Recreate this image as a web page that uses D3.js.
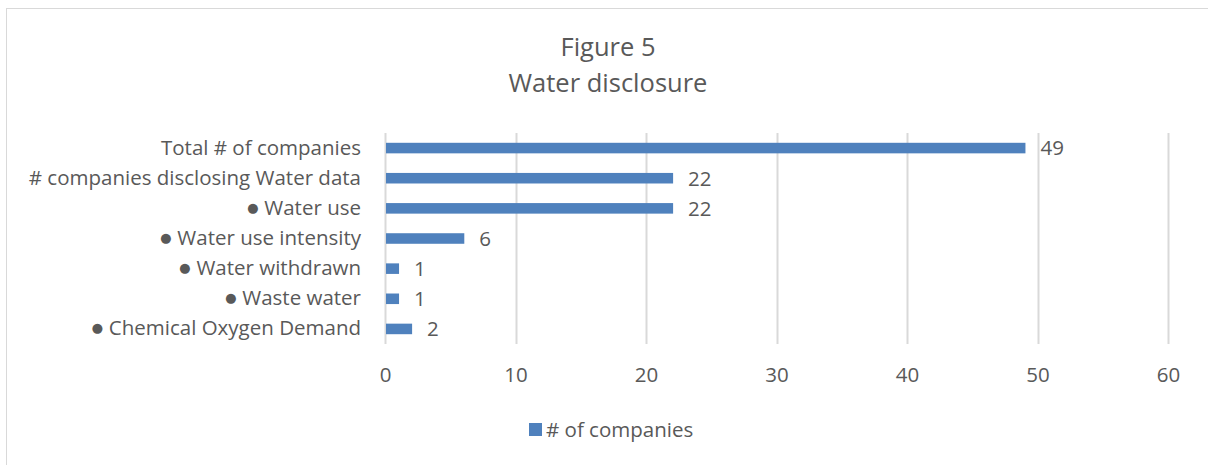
<!DOCTYPE html>
<html>
<head>
<meta charset="utf-8">
<script src="https://cdn.jsdelivr.net/npm/d3@7"></script>
<style>
  html, body { margin: 0; padding: 0; background: #fff; }
  svg { display: block; }
  text { font-family: "Open Sans", Lato, sans-serif; fill: #595959; }
</style>
</head>
<body>
<svg id="chart" width="1208" height="465"></svg>
<script>
// Chart data
const categories = [
  "Total # of companies",
  "# companies disclosing Water data",
  "\u25CF Water use",
  "\u25CF Water use intensity",
  "\u25CF Water withdrawn",
  "\u25CF Waste water",
  "\u25CF Chemical Oxygen Demand"
];
const values = [49, 22, 22, 6, 1, 1, 2];
const xTicks = [0, 10, 20, 30, 40, 50, 60];
const titleLines = ["Figure 5", "Water disclosure"];
const seriesName = "# of companies";

const W = 1208, H = 465;
const margin = { left: 385, right: 40, top: 133, bottom: 121 };
const barColor = "#4F81BD";
const FONT = "'Open Sans', Lato, sans-serif";
const labelSize = 20.5;

const svg = d3.select("#chart");

// Outer chart frame
svg.append("rect")
  .attr("x", 6.5).attr("y", 8.5)
  .attr("width", W + 10).attr("height", H + 10)
  .attr("fill", "none").attr("stroke", "#d9d9d9").attr("stroke-width", 1);

// Title
svg.append("g").selectAll("text").data(titleLines).join("text")
  .attr("x", 608).attr("y", (d, i) => 56 + i * 36)
  .attr("text-anchor", "middle")
  .attr("font-size", 25.5)
  .text(d => d);

const x = d3.scaleLinear().domain([0, 60]).range([margin.left, 1168]);
const y = d3.scaleBand().domain(categories)
  .range([margin.top, H - margin.bottom]).paddingInner(0.65).paddingOuter(0.325);

// Vertical gridlines
svg.append("g").selectAll("line").data(xTicks).join("line")
  .attr("x1", d => Math.round(x(d)) + 0.5).attr("x2", d => Math.round(x(d)) + 0.5)
  .attr("y1", margin.top).attr("y2", H - margin.bottom)
  .attr("stroke", "#d9d9d9").attr("stroke-width", 2);

// X axis tick labels
const xAxis = d3.axisBottom(x).tickValues(xTicks).tickSize(0).tickPadding(0);
const gx = svg.append("g").attr("transform", `translate(0, ${H - margin.bottom + 23})`).call(xAxis);
gx.select(".domain").remove();
gx.selectAll("text").attr("font-size", labelSize).attr("fill", "#595959")
  .style("font-family", FONT);

// Category labels
const yAxis = d3.axisLeft(y).tickSize(0).tickPadding(24);
const gy = svg.append("g").attr("transform", `translate(${margin.left}, 0)`).call(yAxis);
gy.select(".domain").remove();
gy.selectAll("text").attr("font-size", labelSize).attr("fill", "#595959")
  .style("font-family", FONT);

// Bars
svg.append("g").selectAll("rect").data(values).join("rect")
  .attr("x", x(0) + 1)
  .attr("y", (d, i) => y(categories[i]))
  .attr("width", d => x(d) - x(0))
  .attr("height", y.bandwidth())
  .attr("fill", barColor);

// Value labels
svg.append("g").selectAll("text").data(values).join("text")
  .attr("x", d => x(d) + 16)
  .attr("y", (d, i) => y(categories[i]) + y.bandwidth() / 2)
  .attr("dy", "0.36em")
  .attr("font-size", labelSize)
  .text(d => d);

// Legend
const legend = svg.append("g").attr("transform", "translate(529, 423)");
legend.append("rect").attr("width", 13).attr("height", 13).attr("fill", barColor);
legend.append("text").attr("x", 17).attr("y", 6.5).attr("dy", "0.36em")
  .attr("font-size", labelSize).text(seriesName);
</script>
</body>
</html>
